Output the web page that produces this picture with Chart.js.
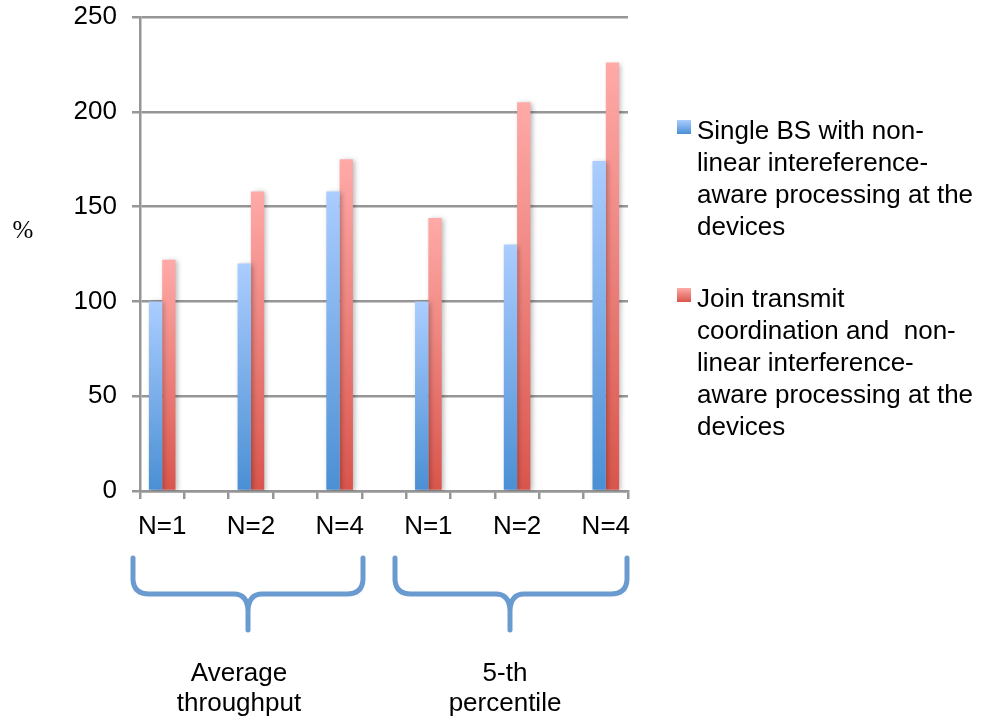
<!DOCTYPE html>
<html>
<head>
<meta charset="utf-8">
<script src="https://cdn.jsdelivr.net/npm/chart.js@4/dist/chart.umd.min.js"></script>
<style>
  body { margin: 0; background: #fff; }
  #wrap { width: 984px; height: 723px; position: relative; }
</style>
</head>
<body>
<div id="wrap"><canvas id="chart"></canvas></div>
<script>
// category labels per group
const categories = ['N=1', 'N=2', 'N=4', 'N=1', 'N=2', 'N=4'];
const groups = [['Average', 'throughput'], ['5-th', 'percentile']];
const seriesNames = [
    ['Single BS with non-', 'linear intereference-', 'aware processing at the', 'devices'],
    ['Join transmit', 'coordination and  non-', 'linear interference-', 'aware processing at the', 'devices']
];
const singleBS = [100, 120, 158, 100, 130, 174];
const jointTx = [122, 158, 175, 144, 205, 226];
const yTicks = [0, 50, 100, 150, 200, 250];

// each category is followed by an empty slot in the original chart
const labels = [], dataA = [], dataB = [];
categories.forEach((c, i) => {
    if (i > 0) { labels.push(''); dataA.push(null); dataB.push(null); }
    labels.push(c); dataA.push(singleBS[i]); dataB.push(jointTx[i]);
});

const FONT = "'Liberation Sans', Arial, sans-serif";
const GRID = '#969696';

function barGradient(light, dark) {
    return function(context) {
        const chart = context.chart;
        const v = context.raw;
        if (!chart.chartArea || v == null) return dark;
        const y = chart.scales.y;
        const top = y.getPixelForValue(v), bottom = y.getPixelForValue(0);
        const g = chart.ctx.createLinearGradient(0, top, 0, bottom);
        g.addColorStop(0, light);
        g.addColorStop(1, dark);
        return g;
    };
}

const extras = {
    id: 'extras',
    beforeDatasetsDraw(chart) {
        const ctx = chart.ctx;
        ctx.save();
        ctx.shadowColor = 'rgba(0,0,0,0.28)';
        ctx.shadowBlur = 5;
        ctx.shadowOffsetX = 2;
        ctx.shadowOffsetY = 1;
    },
    afterDatasetsDraw(chart) {
        chart.ctx.restore();
    },
    afterDraw(chart) {
        const ctx = chart.ctx;
        ctx.save();
        // y-axis unit
        ctx.fillStyle = '#000';
        ctx.font = "25px 'Liberation Serif', 'Times New Roman', serif";
        ctx.textAlign = 'center';
        ctx.textBaseline = 'middle';
        ctx.fillText('%', 23, 231);

        // braces
        ctx.strokeStyle = '#6a9bd0';
        ctx.lineWidth = 5;
        ctx.lineCap = 'round';
        ctx.lineJoin = 'round';
        function brace(x1, x2, xm) {
            const yTop = 558, yH = 594, yEnd = 630;
            ctx.beginPath();
            ctx.moveTo(x1, yTop);
            ctx.lineTo(x1, yH - 14);
            ctx.quadraticCurveTo(x1 + 1, yH, x1 + 16, yH);
            ctx.lineTo(xm - 14, yH);
            ctx.quadraticCurveTo(xm - 1, yH, xm, yH + 16);
            ctx.lineTo(xm, yEnd);
            ctx.moveTo(x2, yTop);
            ctx.lineTo(x2, yH - 14);
            ctx.quadraticCurveTo(x2 - 1, yH, x2 - 16, yH);
            ctx.lineTo(xm + 14, yH);
            ctx.quadraticCurveTo(xm + 1, yH, xm, yH + 16);
            ctx.stroke();
        }
        brace(133, 363, 248);
        brace(395, 627, 510);

        // group labels
        ctx.fillStyle = '#000';
        ctx.font = '26px ' + FONT;
        ctx.textAlign = 'center';
        ctx.textBaseline = 'middle';
        ctx.fillText(groups[0][0], 239, 674);
        ctx.fillText(groups[0][1], 239, 704);
        ctx.fillText(groups[1][0], 505, 674);
        ctx.fillText(groups[1][1], 505, 704);

        // legend
        const legendY = [132, 300];
        const sw = [['#abcdff', '#4a8fd4'], ['#ffaaa8', '#d9554c']];
        ctx.textAlign = 'left';
        seriesNames.forEach((lines, i) => {
            const y0 = legendY[i];
            const g = ctx.createLinearGradient(0, y0 - 12, 0, y0 + 2);
            g.addColorStop(0, sw[i][0]);
            g.addColorStop(1, sw[i][1]);
            ctx.fillStyle = g;
            ctx.fillRect(677, y0 - 12, 14, 14);
            ctx.fillStyle = '#000';
            lines.forEach((t, j) => ctx.fillText(t, 697, y0 + j * 32));
        });
        ctx.restore();
    }
};

new Chart(document.getElementById('chart').getContext('2d'), {
    type: 'bar',
    data: {
        labels: labels,
        datasets: [{
            label: 'Single BS',
            data: dataA,
            backgroundColor: barGradient('#abcdff', '#4a8fd4'),
            borderWidth: 0
        }, {
            label: 'Joint transmit',
            data: dataB,
            backgroundColor: barGradient('#ffaaa8', '#d9554c'),
            borderWidth: 0
        }]
    },
    options: {
        responsive: true,
        maintainAspectRatio: false,
        animation: false,
        categoryPercentage: 0.6,
        barPercentage: 1.0,
        layout: { padding: { left: 0, right: 356, top: 17, bottom: 0 } },
        plugins: {
            legend: { display: false },
            tooltip: { enabled: false }
        },
        scales: {
            x: {
                afterFit: (s) => { s.height = 232; s.paddingLeft = 0; s.paddingRight = 0; },
                grid: {
                    display: true,
                    drawOnChartArea: false,
                    offset: true,
                    tickLength: 8,
                    color: GRID,
                    lineWidth: 2.5
                },
                border: { display: true, color: GRID, width: 2.5 },
                ticks: {
                    autoSkip: false,
                    maxRotation: 0,
                    padding: 12,
                    color: '#000',
                    font: { family: FONT, size: 26 }
                }
            },
            y: {
                min: 0,
                max: 250,
                afterFit: (s) => { s.width = 140; s.paddingTop = 0; s.paddingBottom = 0; },
                afterBuildTicks: (s) => { s.ticks = yTicks.map(v => ({ value: v })); },
                grid: {
                    color: GRID,
                    lineWidth: 2.5,
                    tickLength: 8
                },
                border: { display: true, color: GRID, width: 2.5 },
                ticks: {
                    padding: 15,
                    color: '#000',
                    font: { family: FONT, size: 26 }
                }
            }
        }
    },
    plugins: [extras]
});
</script>
</body>
</html>
